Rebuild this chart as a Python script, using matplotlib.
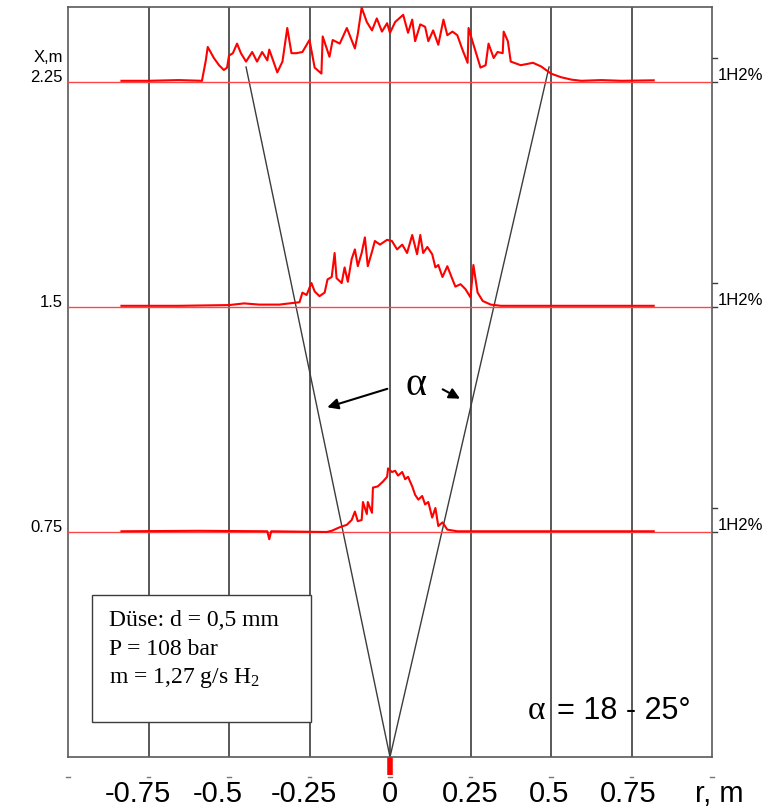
import matplotlib.pyplot as plt
from matplotlib.patches import Rectangle

plt.rcParams['mathtext.fontset'] = 'custom'
plt.rcParams['mathtext.rm'] = 'Liberation Serif'
plt.rcParams['mathtext.it'] = 'Liberation Serif:italic'

# ---- data: H2 concentration profiles (% H2) at three distances X from the nozzle ----
levels = [0.75, 1.5, 2.25]
pct_to_m = 0.08          # 1 % H2 drawn as 0.08 m on the X scale

r_top = [-0.834, -0.75, -0.656, -0.584, -0.572, -0.566, -0.547, -0.531, -0.516, -0.506,
         -0.5, -0.488, -0.475, -0.463, -0.447, -0.428, -0.413, -0.397, -0.381, -0.375,
         -0.35, -0.334, -0.319, -0.306, -0.291, -0.272, -0.25, -0.234, -0.213, -0.209,
         -0.188, -0.178, -0.156, -0.134, -0.109, -0.1, -0.088, -0.072, -0.056, -0.041,
         -0.025, -0.009, 0.0, 0.016, 0.041, 0.056, 0.069, 0.078, 0.094, 0.109,
         0.119, 0.134, 0.15, 0.166, 0.178, 0.194, 0.209, 0.225, 0.241, 0.244,
         0.256, 0.272, 0.281, 0.297, 0.306, 0.322, 0.334, 0.35, 0.353, 0.366,
         0.375, 0.406, 0.444, 0.469, 0.5, 0.531, 0.563, 0.594, 0.656, 0.719, 0.819]
c_top = [0.05, 0.05, 0.08, 0.05, 0.9, 1.46, 1.0, 0.7, 0.5, 0.6,
         1.1, 1.2, 1.6, 1.2, 0.85, 1.25, 0.85, 1.25, 0.9, 1.35,
         0.4, 0.85, 2.25, 1.2, 1.2, 1.25, 1.75, 0.6, 0.35, 1.9,
         1.05, 1.75, 1.6, 2.25, 1.4, 2.0, 3.1, 2.5, 2.15, 2.65,
         2.1, 2.45, 2.05, 2.5, 2.8, 2.05, 2.6, 1.7, 2.4, 2.3,
         1.7, 2.15, 1.55, 2.6, 1.95, 2.1, 1.95, 1.35, 0.8, 2.25,
         1.7, 1.0, 0.6, 0.7, 1.6, 1.0, 1.25, 1.2, 2.1, 1.7,
         0.85, 0.7, 0.8, 0.65, 0.35, 0.2, 0.1, 0.05, 0.08, 0.05, 0.07]

r_mid = [-0.834, -0.656, -0.5, -0.453, -0.406, -0.344, -0.281, -0.272, -0.259, -0.244,
         -0.234, -0.219, -0.203, -0.194, -0.181, -0.172, -0.166, -0.15, -0.141, -0.131,
         -0.119, -0.109, -0.1, -0.088, -0.078, -0.069, -0.056, -0.047, -0.031, -0.009,
         0.006, 0.022, 0.038, 0.053, 0.069, 0.084, 0.094, 0.103, 0.116, 0.131,
         0.141, 0.15, 0.163, 0.178, 0.194, 0.203, 0.219, 0.234, 0.25, 0.259,
         0.272, 0.288, 0.313, 0.344, 0.531, 0.819]
c_mid = [0.05, 0.05, 0.08, 0.15, 0.1, 0.1, 0.2, 0.6, 0.5, 1.0,
         0.65, 0.45, 0.6, 1.15, 1.25, 2.25, 1.2, 1.0, 1.65, 1.05,
         2.0, 2.4, 1.7, 2.25, 2.9, 1.7, 2.3, 2.75, 2.6, 2.8,
         2.75, 2.4, 2.6, 2.25, 3.0, 2.2, 3.0, 2.25, 2.5, 2.2,
         1.65, 1.75, 1.25, 1.7, 1.15, 0.85, 0.95, 0.75, 0.4, 1.75,
         0.6, 0.25, 0.1, 0.05, 0.05, 0.05]

r_low = [-0.834, -0.594, -0.381, -0.375, -0.369, -0.197, -0.181, -0.156, -0.134, -0.119,
         -0.109, -0.1, -0.088, -0.084, -0.072, -0.069, -0.056, -0.053, -0.038, -0.022,
         -0.009, -0.006, 0.006, 0.016, 0.025, 0.038, 0.047, 0.056, 0.069, 0.078,
         0.088, 0.1, 0.109, 0.119, 0.131, 0.141, 0.15, 0.163, 0.178, 0.209,
         0.531, 0.819]
c_low = [0.03, 0.05, 0.03, -0.3, 0.03, 0.0, 0.05, 0.2, 0.3, 0.5,
         0.85, 0.45, 0.5, 1.25, 0.75, 1.25, 0.8, 1.85, 1.9, 2.1,
         2.3, 2.65, 2.5, 2.55, 2.35, 2.5, 2.2, 2.3, 1.9, 1.55,
         1.35, 1.5, 1.15, 1.25, 0.6, 1.0, 0.25, 0.4, 0.1, 0.03,
         0.03, 0.03]

profiles = [(r_low, c_low), (r_mid, c_mid), (r_top, c_top)]

# spreading cone (apex at the nozzle)
cone_r = [-0.447, 0.0, 0.494]
cone_x = [2.30, 0.0, 2.30]

grid_r = [-0.75, -0.5, -0.25, 0, 0.25, 0.5, 0.75]
tick_labels = ['-0.75', '-0.5', '-0.25', '0', '0.25', '0.5', '0.75']
label_pos = [-0.784, -0.534, -0.266, 0.0, 0.25, 0.494, 0.741]
level_labels = ['0.75', '1.5', '2.25']

info_lines = ['Düse: d = 0,5 mm', 'P = 108 bar', 'm = 1,27 g/s H$_2$']

# ---- figure ----
fig = plt.figure(figsize=(7.76, 8.08), dpi=100)
ax = fig.add_axes([68 / 776, 51 / 808, 644 / 776, 750 / 808])
ax.set_xlim(-1.0, 1.0)
ax.set_ylim(0.0, 2.5)
ax.set_xticks([])
ax.set_yticks([])
for sp in ax.spines.values():
    sp.set_color('#5a5a5a')
    sp.set_linewidth(1.2)

for g in grid_r:
    ax.axvline(g, color='#3c3c3c', lw=1.2, zorder=1)

# cone
ax.plot(cone_r, cone_x, color='#3c3c3c', lw=1.0, zorder=2)

# baselines + profiles
for lev, lab, (rr, cc) in zip(levels, level_labels, profiles):
    ax.axhline(lev, color='#ff4545', lw=1.0, zorder=3)
    ax.plot(rr, [lev + c * pct_to_m for c in cc], color='red', lw=1.5, zorder=4)
    ax.text(-1.016, lev, lab, ha='right', va='baseline',
            fontsize=12, family='Liberation Sans', clip_on=False)
    # right scale: 1 % H2
    ax.plot([1.0, 1.016], [lev + pct_to_m, lev + pct_to_m], color='#3c3c3c', lw=1.0, clip_on=False)
    ax.plot([1.0, 1.016], [lev, lev], color='#3c3c3c', lw=1.0, clip_on=False)
    ax.text(1.017, lev + 0.005, '1H2%', ha='left', va='baseline', fontsize=12,
            family='Liberation Sans', clip_on=False)

ax.text(-1.016, 2.315, 'X,m', ha='right', va='baseline', fontsize=12,
        family='Liberation Sans', clip_on=False)

# nozzle mark
ax.plot([0, 0], [0, -0.06], color='red', lw=4, solid_capstyle='butt', clip_on=False)

# bottom tick dashes and labels
for g in [-1.0] + grid_r + [1.0]:
    ax.plot([g - 0.006, g + 0.006], [-0.067, -0.067], color='#777777', lw=1.0, clip_on=False)
for x, lab in zip(label_pos, tick_labels):
    ax.text(x, -0.122, lab, ha='center', va='center', fontsize=21,
            family='Liberation Sans', clip_on=False)
ax.text(1.022, -0.122, 'r, m', ha='center', va='center', fontsize=21,
        family='Liberation Sans', clip_on=False)

# alpha label with arrows
ax.add_patch(Rectangle((0.004, 1.16), 0.152, 0.205, facecolor='white', edgecolor='none', zorder=5))
ax.text(0.081, 1.207, 'α', ha='center', va='baseline', fontsize=29,
        family='Liberation Serif', zorder=6)
ax.annotate('', xy=(-0.203, 1.163), xytext=(0.0, 1.23),
            arrowprops=dict(arrowstyle='-|>', color='black', lw=1.5, mutation_scale=16), zorder=6)
ax.annotate('', xy=(0.225, 1.19), xytext=(0.156, 1.23),
            arrowprops=dict(arrowstyle='-|>', color='black', lw=1.5, mutation_scale=16), zorder=6)

# nozzle info box
ax.add_patch(Rectangle((-0.925, 0.117), 0.681, 0.423, facecolor='white',
                       edgecolor='#3c3c3c', lw=1.0, zorder=5))
for yy, line in zip([0.437, 0.34, 0.247], info_lines):
    ax.text(-0.872, yy, line, ha='left', va='baseline', fontsize=17,
            family='Liberation Serif', zorder=6)

# cone angle
ax.text(0.456, 0.128, 'α', ha='center', va='baseline', fontsize=24,
        family='Liberation Serif', zorder=6)
ax.text(0.519, 0.128, '= 18 - 25°', ha='left', va='baseline', fontsize=22,
        family='Liberation Sans', zorder=6)

fig.savefig('out.png', dpi=100, facecolor='white')
